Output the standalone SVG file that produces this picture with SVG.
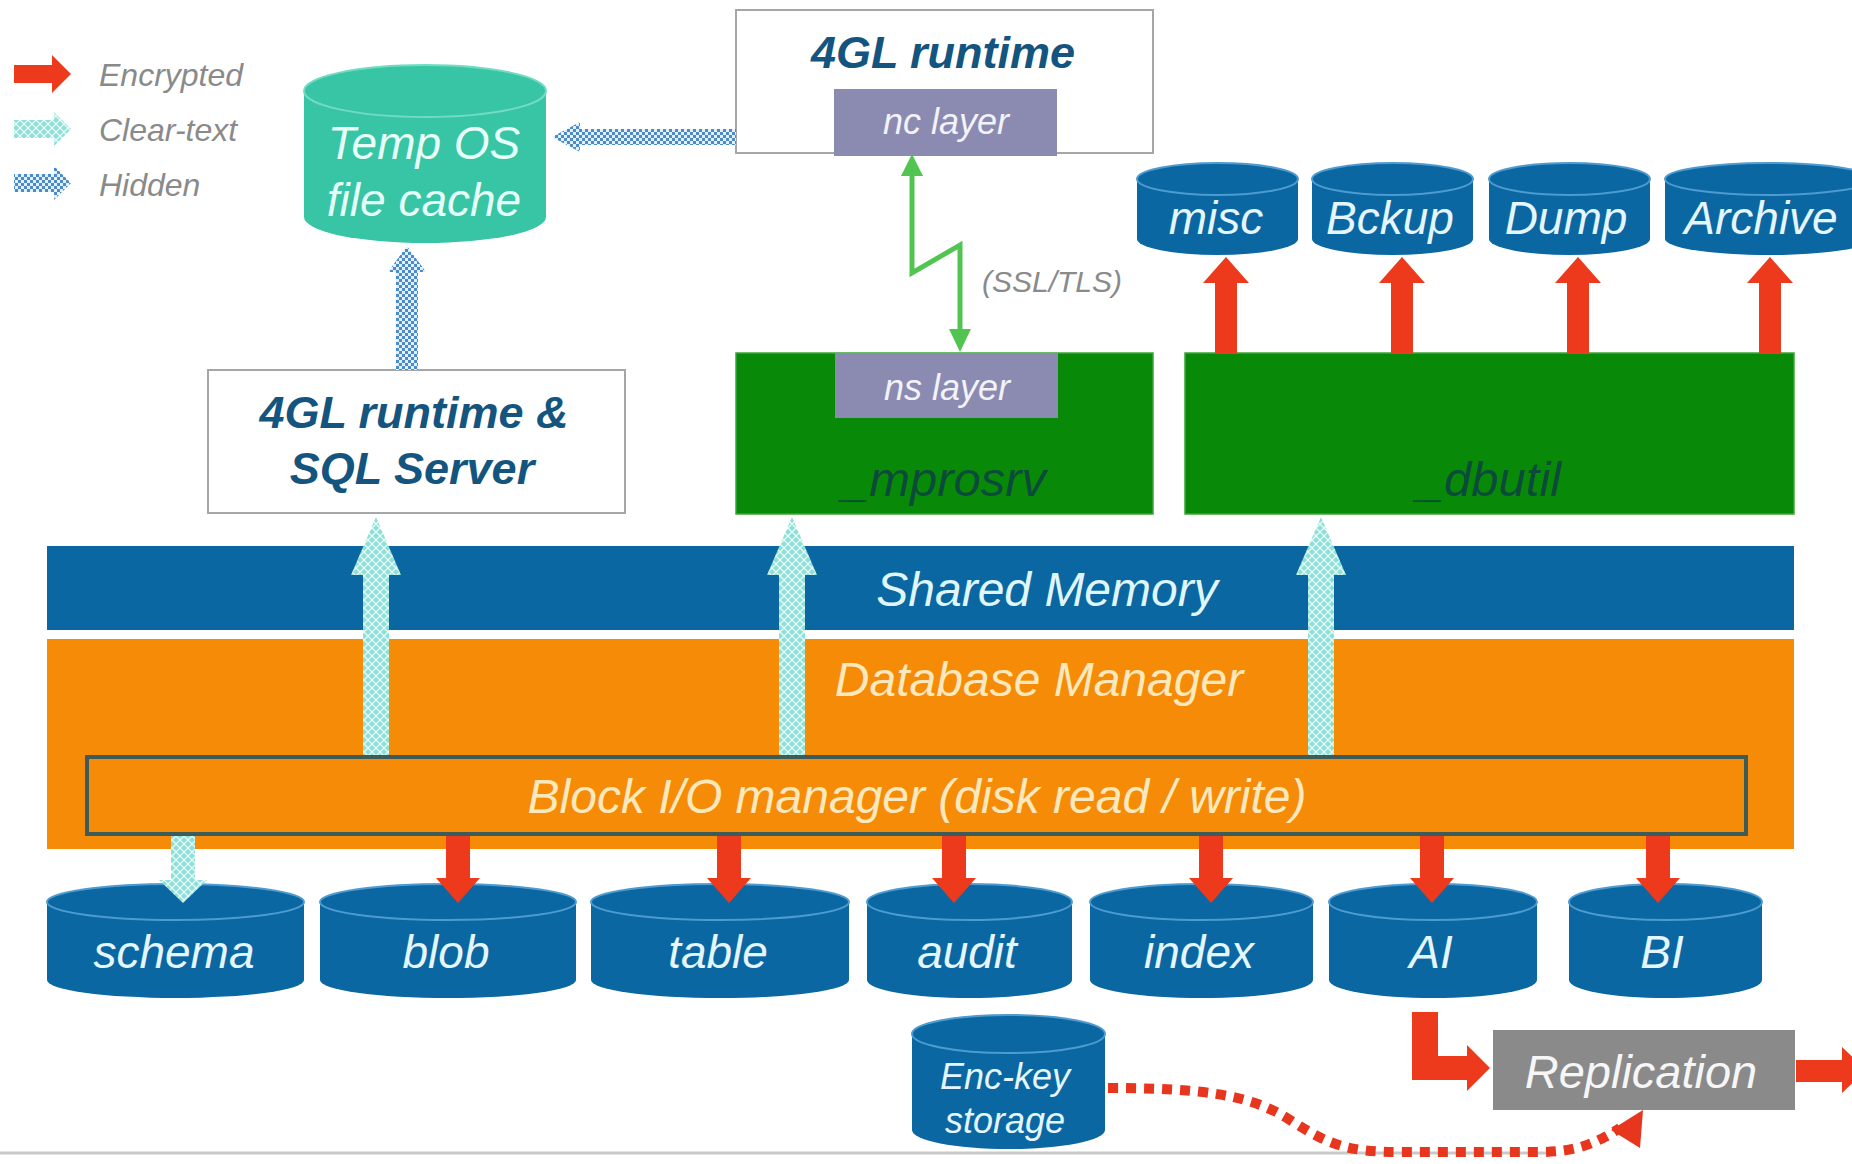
<svg xmlns="http://www.w3.org/2000/svg" width="1852" height="1164" viewBox="0 0 1852 1164">
  <defs>
    <!-- fill for clear-text data flows -->
    <pattern id="clear" width="8" height="8" patternUnits="userSpaceOnUse">
      <rect width="8" height="8" fill="#8edfd7"/>
      <path d="M0,4 L4,0 L8,4 L4,8 Z" fill="none" stroke="#e9fbf8" stroke-width="1.3"/>
    </pattern>
    <!-- fill for hidden data flows -->
    <pattern id="hidden" width="6" height="6" patternUnits="userSpaceOnUse">
      <rect width="6" height="6" fill="#e4eff8"/>
      <rect width="3" height="3" fill="#4a8bc8"/>
      <rect x="3" y="3" width="3" height="3" fill="#4a8bc8"/>
    </pattern>
    <style>
      .it { font-family: "Liberation Sans", Arial, sans-serif; font-style: italic; }
      .legend { font-size: 32px; fill: #8a8a8a; }
      .cyl { fill: #0b67a2; }
      .rim { fill: #0b67a2; stroke: #4d9bd0; stroke-width: 2; }
      .cyltxt { font-size: 46px; fill: #e4f6ff; text-anchor: middle; }
      .small { font-size: 36px; }
      .title { font-family: "Liberation Sans", Arial, sans-serif; font-style: italic; font-weight: bold; font-size: 45px; fill: #14557f; text-anchor: middle; }
      .box { fill: #ffffff; stroke: #a6a6a6; stroke-width: 2; }
      .layer { fill: #8b8ab0; }
      .layertxt { font-size: 36px; fill: #f2f2fa; text-anchor: middle; }
      .green { fill: #088a08; stroke: #3aa53a; stroke-width: 1.5; }
      .greentxt { font-size: 49px; fill: #0c4a3a; text-anchor: middle; }
      .band { font-size: 48px; text-anchor: middle; }
      .red { fill: #ee3a1c; }
      .clr { fill: url(#clear); }
      .hid { fill: url(#hidden); }
    </style>
  </defs>

  <rect width="1852" height="1164" fill="#ffffff"/>

  <!-- legend -->
  <g id="legend">
    <polygon class="red" points="14,65 52,65 52,55 71,74 52,93 52,83 14,83"/>
    <polygon class="clr" points="14,120 54,120 54,112 71,129 54,146 54,138 14,138"/>
    <polygon class="hid" points="14,174 54,174 54,166 71,183 54,200 54,192 14,192"/>
    <text class="it legend" x="99" y="86">Encrypted</text>
    <text class="it legend" x="99" y="141">Clear-text</text>
    <text class="it legend" x="99" y="196">Hidden</text>
  </g>

  <!-- temp OS file cache -->
  <g id="temp-cache">
    <path d="M304,91 L304,217 A121,26 0 0 0 546,217 L546,91 Z" fill="#37c5a5"/>
    <ellipse cx="425" cy="91" rx="121" ry="26" fill="#37c5a5" stroke="#72dcc3" stroke-width="2"/>
    <text class="it" x="424" y="159" font-size="46" fill="#e6fff7" text-anchor="middle">Temp OS</text>
    <text class="it" x="424" y="216" font-size="46" fill="#e6fff7" text-anchor="middle">file cache</text>
  </g>

  <!-- client 4GL runtime -->
  <g id="client-runtime">
    <rect class="box" x="736" y="10" width="417" height="143"/>
    <text class="title" x="943" y="68">4GL runtime</text>
  </g>
  <g id="nc-layer">
    <rect class="layer" x="834" y="89" width="223" height="67"/>
    <text class="it layertxt" x="946" y="134">nc layer</text>
  </g>

  <!-- server side runtime -->
  <g id="runtime-sql">
    <rect class="box" x="208" y="370" width="417" height="143"/>
    <text class="title" x="414" y="428">4GL runtime &amp;</text>
    <text class="title" x="412" y="484">SQL Server</text>
  </g>

  <g id="mprosrv">
    <rect class="green" x="736" y="353" width="417" height="161"/>
    <text class="it greentxt" x="944" y="496">_mprosrv</text>
  </g>
  <g id="ns-layer">
    <rect class="layer" x="835" y="353" width="223" height="65"/>
    <text class="it layertxt" x="947" y="400">ns layer</text>
  </g>

  <g id="dbutil">
    <rect class="green" x="1185" y="353" width="609" height="161"/>
    <text class="it greentxt" x="1489" y="496">_dbutil</text>
  </g>

  <!-- utility output stores -->
  <g id="misc">
    <path class="cyl" d="M1137,179 L1137,239 A80.5,16 0 0 0 1298,239 L1298,179 Z"/>
    <ellipse class="rim" cx="1217.5" cy="179" rx="80.5" ry="16"/>
    <text class="it cyltxt" x="1216" y="234">misc</text>
  </g>
  <g id="bckup">
    <path class="cyl" d="M1312,179 L1312,239 A80.5,16 0 0 0 1473,239 L1473,179 Z"/>
    <ellipse class="rim" cx="1392.5" cy="179" rx="80.5" ry="16"/>
    <text class="it cyltxt" x="1390" y="234">Bckup</text>
  </g>
  <g id="dump">
    <path class="cyl" d="M1489,179 L1489,239 A80.5,16 0 0 0 1650,239 L1650,179 Z"/>
    <ellipse class="rim" cx="1569.5" cy="179" rx="80.5" ry="16"/>
    <text class="it cyltxt" x="1566" y="234">Dump</text>
  </g>
  <g id="archive">
    <path class="cyl" d="M1665,179 L1665,239 A103.5,16 0 0 0 1872,239 L1872,179 Z"/>
    <ellipse class="rim" cx="1768.5" cy="179" rx="103.5" ry="16"/>
    <text class="it cyltxt" x="1761" y="234">Archive</text>
  </g>

  <!-- shared memory and database manager -->
  <g id="shared-memory">
    <rect x="47" y="546" width="1747" height="84" fill="#0b67a2"/>
    <text class="it band" x="1047" y="606" fill="#dff6fc">Shared Memory</text>
  </g>
  <g id="db-manager">
    <rect x="47" y="639" width="1747" height="210" fill="#f68b08"/>
    <text class="it band" x="1039" y="696" fill="#fbe8bc">Database Manager</text>
  </g>
  <g id="block-io">
    <rect x="87" y="757" width="1659" height="77" fill="#f68b08" stroke="#3d5c58" stroke-width="4"/>
    <text class="it band" x="917" y="813" fill="#fbe8bc">Block I/O manager (disk read / write)</text>
  </g>

  <!-- database storage areas -->
  <g id="schema">
    <path class="cyl" d="M47,902 L47,980 A128.5,18 0 0 0 304,980 L304,902 Z"/>
    <ellipse class="rim" cx="175.5" cy="902" rx="128.5" ry="18"/>
    <text class="it cyltxt" x="174" y="968">schema</text>
  </g>
  <g id="blob">
    <path class="cyl" d="M320,902 L320,980 A128,18 0 0 0 576,980 L576,902 Z"/>
    <ellipse class="rim" cx="448" cy="902" rx="128" ry="18"/>
    <text class="it cyltxt" x="446" y="968">blob</text>
  </g>
  <g id="table">
    <path class="cyl" d="M591,902 L591,980 A129,18 0 0 0 849,980 L849,902 Z"/>
    <ellipse class="rim" cx="720" cy="902" rx="129" ry="18"/>
    <text class="it cyltxt" x="718" y="968">table</text>
  </g>
  <g id="audit">
    <path class="cyl" d="M867,902 L867,980 A102.5,18 0 0 0 1072,980 L1072,902 Z"/>
    <ellipse class="rim" cx="969.5" cy="902" rx="102.5" ry="18"/>
    <text class="it cyltxt" x="967" y="968">audit</text>
  </g>
  <g id="index">
    <path class="cyl" d="M1090,902 L1090,980 A111.5,18 0 0 0 1313,980 L1313,902 Z"/>
    <ellipse class="rim" cx="1201.5" cy="902" rx="111.5" ry="18"/>
    <text class="it cyltxt" x="1199" y="968">index</text>
  </g>
  <g id="ai">
    <path class="cyl" d="M1329,902 L1329,980 A104,18 0 0 0 1537,980 L1537,902 Z"/>
    <ellipse class="rim" cx="1433" cy="902" rx="104" ry="18"/>
    <text class="it cyltxt" x="1431" y="968">AI</text>
  </g>
  <g id="bi">
    <path class="cyl" d="M1569,902 L1569,980 A96.5,18 0 0 0 1762,980 L1762,902 Z"/>
    <ellipse class="rim" cx="1665.5" cy="902" rx="96.5" ry="18"/>
    <text class="it cyltxt" x="1662" y="968">BI</text>
  </g>

  <g id="enc-key">
    <path class="cyl" d="M912,1034 L912,1130 A96.5,19 0 0 0 1105,1130 L1105,1034 Z"/>
    <ellipse class="rim" cx="1008.5" cy="1034" rx="96.5" ry="19"/>
    <text class="it cyltxt small" x="1005" y="1089">Enc-key</text>
    <text class="it cyltxt small" x="1005" y="1133">storage</text>
  </g>

  <g id="replication">
    <rect x="1493" y="1030" width="302" height="80" fill="#8a8a8a"/>
    <text class="it" x="1641" y="1088" font-size="47" fill="#f6f6f6" text-anchor="middle">Replication</text>
  </g>

  <!-- connectors -->
  <g id="connectors">
    <!-- hidden flows into the temp file cache -->
    <polygon class="hid" points="552,137 580,122 580,129 736,129 736,145 580,145 580,152"/>
    <polygon class="hid" points="407,246 426,272 418,272 418,370 396,370 396,272 388,272"/>

    <!-- client/server link -->
    <path d="M912,172 L912,273 L960,245 L960,332" fill="none" stroke="#52c452" stroke-width="5" stroke-linejoin="miter"/>
    <polygon points="912,154 901,176 923,176" fill="#52c452"/>
    <polygon points="960,352 949,329 971,329" fill="#52c452"/>
    <text class="it" x="982" y="292" font-size="30" fill="#8a8a8a">(SSL/TLS)</text>

    <!-- _dbutil outputs -->
    <polygon class="red" points="1226,257 1249,283 1237,283 1237,353 1215,353 1215,283 1203,283"/>
    <polygon class="red" points="1402,257 1425,283 1413,283 1413,353 1391,353 1391,283 1379,283"/>
    <polygon class="red" points="1578,257 1601,283 1589,283 1589,353 1567,353 1567,283 1555,283"/>
    <polygon class="red" points="1770,257 1793,283 1781,283 1781,353 1759,353 1759,283 1747,283"/>

    <!-- clear-text reads up from block I/O -->
    <polygon class="clr" points="376,517 401,575 389,575 389,755 363,755 363,575 351,575"/>
    <polygon class="clr" points="792,517 817,575 805,575 805,755 779,755 779,575 767,575"/>
    <polygon class="clr" points="1321,517 1346,575 1334,575 1334,755 1308,755 1308,575 1296,575"/>

    <!-- writes down to storage areas -->
    <polygon class="clr" points="183,903 207,880 195,880 195,836 171,836 171,880 159,880"/>
    <polygon class="red" points="458,903 480,878 470,878 470,836 446,836 446,878 436,878"/>
    <polygon class="red" points="729,903 751,878 741,878 741,836 717,836 717,878 707,878"/>
    <polygon class="red" points="954,903 976,878 966,878 966,836 942,836 942,878 932,878"/>
    <polygon class="red" points="1211,903 1233,878 1223,878 1223,836 1199,836 1199,878 1189,878"/>
    <polygon class="red" points="1432,903 1454,878 1444,878 1444,836 1420,836 1420,878 1410,878"/>
    <polygon class="red" points="1658,903 1680,878 1670,878 1670,836 1646,836 1646,878 1636,878"/>

    <!-- AI to replication and onwards -->
    <polygon class="red" points="1412,1012 1438,1012 1438,1056 1467,1056 1467,1045 1490,1068 1467,1091 1467,1080 1412,1080"/>
    <polygon class="red" points="1796,1060 1842,1060 1842,1047 1866,1070 1842,1093 1842,1082 1796,1082"/>

    <!-- key storage to replication -->
    <line x1="0" y1="1153" x2="1550" y2="1153" stroke="#c9c9c9" stroke-width="3"/>
    <path d="M1108,1088 C1200,1088 1250,1094 1290,1120 C1330,1146 1350,1152 1400,1152 L1540,1152 C1578,1152 1598,1142 1620,1128" fill="none" stroke="#e8351d" stroke-width="10" stroke-dasharray="10 8"/>
    <polygon points="1643,1110 1611,1130 1640,1148" fill="#e8351d"/>
  </g>
</svg>
